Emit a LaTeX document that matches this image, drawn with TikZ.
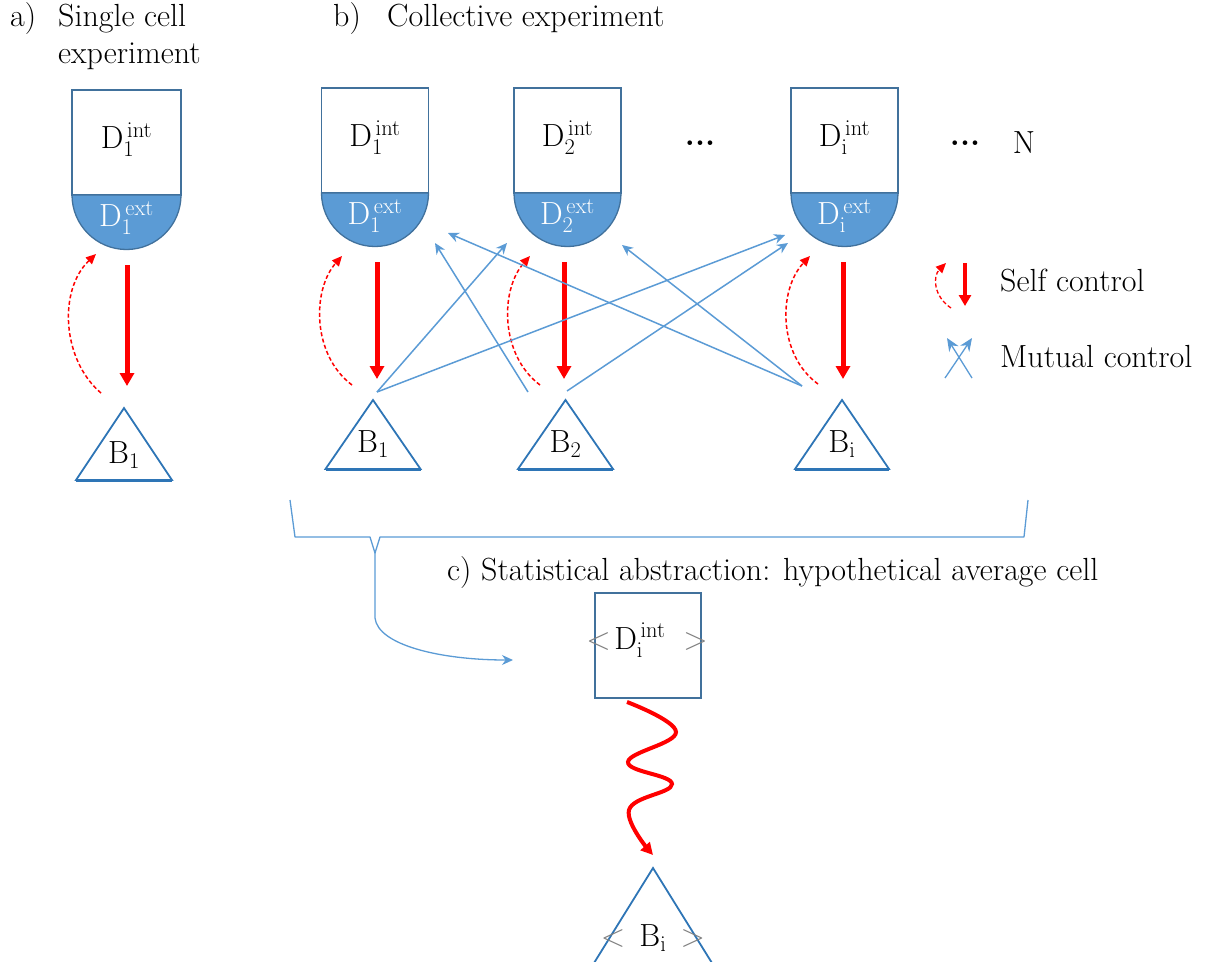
\RequirePackage{fix-cm}
\documentclass[tikz,border=0pt]{standalone}
\usetikzlibrary{arrows.meta,calc}
\definecolor{cellblue}{HTML}{5B9BD5}
\definecolor{edgeblue}{HTML}{41719C}
\definecolor{triblue}{HTML}{2E75B6}
\definecolor{arrblue}{HTML}{5B9BD5}
\tikzset{
  cellrect/.style={draw=edgeblue, line width=1.3pt, fill=white, inner sep=0pt},
  tri/.style={draw=triblue, line width=1.8pt, line join=miter},
  selfarrow/.style={red, line width=5pt, -{Triangle[length=13pt,width=14pt]}},
  selfdash/.style={red, line width=1.5pt, dash pattern=on 4pt off 2.5pt, -{Triangle[length=10pt,width=9pt]}},
  mutual/.style={arrblue, line width=1.5pt, -{Stealth[length=11pt,width=10pt]}},
  lbl/.style={inner sep=0pt, anchor=base west},
}
\newcommand\mycell[6]{%
  \node[cellrect, minimum width={2*#3}, minimum height={#5-#4}] (#1) at (#2,{(#4+#5)/2}) {};
  \node at (#2,{(#4+#5)/2-3}) {$\mathrm{D}_{#6}^{\,\mathrm{int}}$};
  \fill[cellblue] (#2-#3,#5) arc[start angle=180,end angle=0,radius=#3] -- cycle;
  \draw[edgeblue,line width=1.3pt] (#2-#3,#5) arc[start angle=180,end angle=0,radius=#3] -- cycle;
  \node[text=white] (#1e) at (#2,#5+23) {$\mathrm{D}_{#6}^{\,\mathrm{ext}}$};
}
\newcommand\mytri[6]{%
  \coordinate (#1) at (#2,#3);
  \draw[tri] (#2,#3) -- (#2-#4,#5) -- (#2+#4,#5) -- cycle;
  \draw[triblue, line width=3pt] (#2-#4,#5) -- (#2+#4,#5);
  \node (#1t) at (#2,{#5-25}) {#6};
}
\begin{document}
\begin{tikzpicture}[x=1pt,y=-1pt, font=\fontsize{32}{38}\selectfont]
\useasboundingbox (0,0) rectangle (1207,961);

% titles
\node[lbl] (ta) at (10,27) {a)};
\node[lbl] (ta1) at (58,27) {Single cell};
\node[lbl] (ta2) at (58,63) {experiment};
\node[lbl] (tb) at (333,27) {b)};
\node[lbl] (tb1) at (387,27) {Collective experiment};

% cells
\mycell{s1}{126.5}{54.5}{90}{195}{1}
\mycell{c1}{375}{53.5}{88}{193}{1}
\mycell{c2}{567.5}{53.5}{88}{193}{2}
\mycell{ci}{844.5}{53.5}{88}{193}{\mathrm{i}}
\node (dots1) at (700,143) {\textbf{...}};
\node (dots2) at (965,143) {\textbf{...}};
\node (nN) at (1024,143) {N};

% triangles
\mytri{sb1}{124}{408}{48}{480}{$\mathrm{B}_1$}
\mytri{b1}{373}{400}{47.5}{469}{$\mathrm{B}_1$}
\mytri{b2}{565.5}{400}{47.5}{469}{$\mathrm{B}_2$}
\mytri{bi}{842}{400}{47}{469}{$\mathrm{B}_\mathrm{i}$}

% self control arrows
\draw[selfarrow] (127,265) -- (127,386);
\draw[selfdash] (101,393) .. controls (62,360) and (58,290) .. (96,254);
\draw[selfarrow] (377,262) -- (377,379);
\draw[selfdash] (352,385) .. controls (312,355) and (312,290) .. (342,256);
\draw[selfarrow] (564,262) -- (564,379);
\draw[selfdash] (540,385) .. controls (500,355) and (500,290) .. (530,256);
\draw[selfarrow] (843,262) -- (843,379);
\draw[selfdash] (818,384) .. controls (778,355) and (778,290) .. (810,256);

% mutual control arrows
\coordinate (b1o) at (377,392);
\coordinate (b2l) at (528,392);
\coordinate (b2r) at (567,391);
\coordinate (bio) at (802,386);
\draw[mutual] (b1o) -- (507,243);
\draw[mutual] (b1o) -- (785,235);
\draw[mutual] (b2l) -- (435,243);
\draw[mutual] (b2r) -- (788,243);
\draw[mutual] (bio) -- (448,233);
\draw[mutual] (bio) -- (622,245);

% legend
\draw[selfdash, line width=1.3pt] (951,308) .. controls (933,296) and (933,276) .. (946,263);
\draw[red, line width=4pt, -{Triangle[length=11pt,width=12pt]}] (965,263) -- (965,306);
\node[lbl] (ls) at (1000,291) {Self control};
\draw[mutual, line width=1.3pt, -{Stealth[length=13pt,width=11pt]}] (945,378) -- (972,338);
\draw[mutual, line width=1.3pt, -{Stealth[length=13pt,width=11pt]}] (972,378) -- (947,338);
\node[lbl] (lm) at (1000,367) {Mutual control};

% brace
\draw[arrblue, line width=1.3pt, line join=round] (290,500) -- (295,537) -- (370,537) -- (375,553) -- (380,537) -- (1024,537) -- (1028,500);
\draw[arrblue, line width=1.3pt, -{Stealth[length=11pt,width=10pt]}] (375,553) -- (375,618) .. controls (378,645) and (440,660) .. (513,660);

% c)
\node[lbl] (tc) at (447,580) {c) Statistical abstraction: hypothetical average cell};
\node[cellrect, minimum width=106pt, minimum height=105pt, line width=2pt] (avg) at (648,645) {};
\node at (647,640) {$\color{gray}<\!\color{black}\mathrm{D}_\mathrm{i}^{\,\mathrm{int}}\;\color{gray}>$};
\draw[red, line width=4pt, -{Triangle[length=12pt,width=12pt]}] plot[smooth, tension=0.7] coordinates {(627,702) (676,732) (628,762) (672,784) (629,810) (653,855)};
\mytri{avb}{653}{868}{59}{963}{$\color{gray}<\,\color{black}\mathrm{B}_\mathrm{i}\,\color{gray}>$}
\end{tikzpicture}
\end{document}
